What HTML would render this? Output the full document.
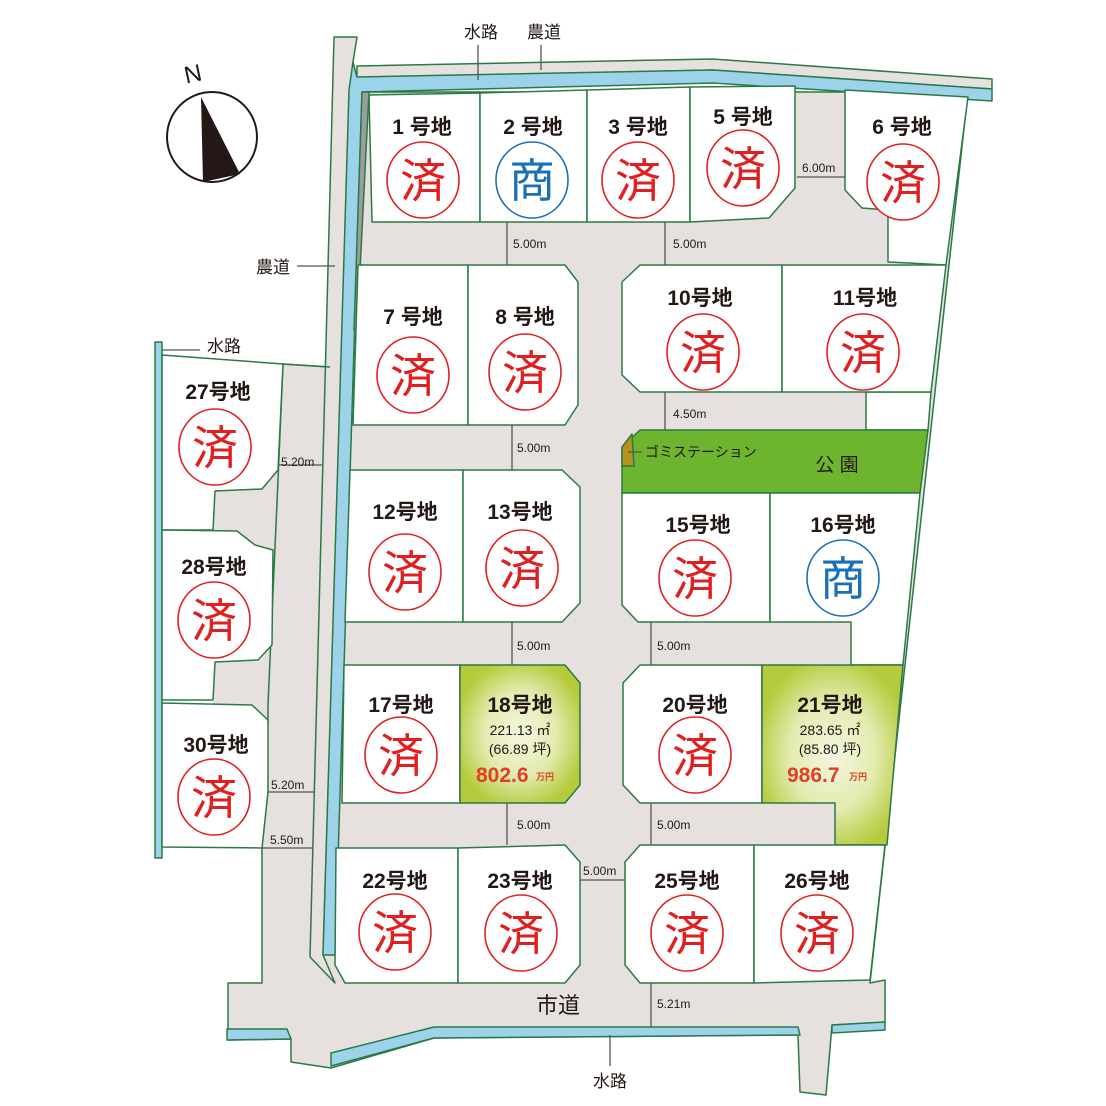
<!DOCTYPE html>
<html><head><meta charset="utf-8"><style>
html,body{margin:0;padding:0;background:#fff}
svg{display:block}
.lb{font-family:"Liberation Sans","Noto Sans CJK JP",sans-serif;font-weight:bold;font-size:21px;fill:#231815;text-anchor:middle}
.st{font-family:"Liberation Sans","Noto Sans CJK JP",sans-serif;font-size:46px;text-anchor:middle}
.sm{font-family:"Liberation Sans","Noto Sans CJK JP",sans-serif;font-size:12px;fill:#231815}
.tx{font-family:"Liberation Sans","Noto Sans CJK JP",sans-serif;font-size:17px;fill:#231815;text-anchor:middle}
</style></head><body>
<svg width="1106" height="1106" viewBox="0 0 1106 1106" xmlns="http://www.w3.org/2000/svg">
<defs>
<radialGradient id="g" cx="50%" cy="50%" r="55%"><stop offset="0" stop-color="#f4f7e0"/><stop offset="0.55" stop-color="#e3ebb0"/><stop offset="1" stop-color="#b5cb3c"/></radialGradient>
</defs>
<polygon fill="#e6e1de" points="213,360 330,367 312,960 262,983 262,848 213,848"/>
<g stroke="#2a7a45" stroke-width="1.5" stroke-linejoin="round">
<polygon fill="#e6e1de" points="357,92 968,92 870,983 885,980 885,1022 832,1025 826,1095 800,1092 798,1035 434,1038 331,1068 291,1062 291,1039 228,1040 228,983 262,983 262,848 268,720 268,705 278,480 283,364 330,367"/>
<polygon fill="#e6e1de" points="334,37 357,37 353,62 350,90 323,955 335,983 310,957"/>
<polygon fill="#e6e1de" points="357,66 713,59 992,79 992,89 713,70 357,78"/>
<polygon fill="#9cd3ea" points="353,62 357,77 713,70 992,89 992,101 713,83 362,92 335,955 323,955 349,90"/>
<polygon fill="#9d9d9d" points="362,92 369,92 357,330 354,330"/>
<polygon fill="#9cd3ea" points="155,342 162,342 162,858 155,858"/>
<polygon fill="#9cd3ea" points="227,1029 287,1029 291,1039 227,1040"/>
<polygon fill="#9cd3ea" points="331,1053 434,1027 798,1027 800,1035 434,1038 331,1066"/>
<polygon fill="#9cd3ea" points="832,1025 885,1022 885,1030 832,1033"/>
<polygon fill="#fff" points="866,392 931,392 928,430 866,430"/>
<polygon fill="#fff" points="162,355 283,364 278,470 262,489 215,491 213,530 162,530"/>
<polygon fill="#fff" points="162,530 237,531 255,545 273,550 272,645 258,660 215,662 213,700 162,700"/>
<polygon fill="#fff" points="162,703 252,705 268,720 268,792 262,848 162,847"/>
<line x1="283" y1="364" x2="330" y2="367"/>
<polygon fill="#fff" points="369,95 480,93 480,222 372,222"/>
<polygon fill="#fff" points="480,93 587,90 587,222 480,222"/>
<polygon fill="#fff" points="587,90 690,87 690,222 587,222"/>
<polygon fill="#fff" points="690,87 795,86 795,188 769,218 690,222"/>
<polygon fill="#fff" points="845,90 968,97 946,265 888,262 888,210 862,208 845,190"/>
<polygon fill="#fff" points="358,265 468,265 468,425 353,425"/>
<polygon fill="#fff" points="468,265 565,265 578,282 578,405 565,425 468,425"/>
<polygon fill="#fff" points="640,265 782,265 782,392 640,392 622,375 622,282"/>
<polygon fill="#fff" points="782,265 946,265 931,392 782,392"/>
<polygon fill="#6db52e" points="640,430 928,430 920,493 622,493 622,447"/>
<polygon fill="#b8901e" points="622,447 632,434 634,466 622,466"/>
<polygon fill="#fff" points="350,470 463,470 463,622 345,622"/>
<polygon fill="#fff" points="463,470 562,470 580,487 580,603 562,622 463,622"/>
<polygon fill="#fff" points="622,493 770,493 770,622 638,622 622,605"/>
<polygon fill="#fff" points="770,493 920,493 903,665 851,665 851,622 770,622"/>
<polygon fill="#fff" points="344,665 460,665 460,803 342,803"/>
<polygon fill="url(#g)" points="460,665 565,665 580,683 580,785 565,803 460,803"/>
<polygon fill="#fff" points="640,665 762,665 762,803 640,803 623,785 623,683"/>
<polygon fill="url(#g)" points="762,665 903,665 887,845 835,845 835,803 762,803"/>
<polygon fill="#fff" points="336,848 458,848 458,983 345,983 335,965"/>
<polygon fill="#fff" points="458,848 565,845 580,862 580,965 565,983 458,983"/>
<polygon fill="#fff" points="640,845 754,845 754,983 640,983 625,965 625,862"/>
<polygon fill="#fff" points="754,845 885,845 870,980 754,983"/>
</g>
<g stroke="#555" stroke-width="1.3">
<line x1="507" y1="222" x2="507" y2="265"/><line x1="665" y1="222" x2="665" y2="265"/>
<line x1="797" y1="177" x2="845" y2="177"/>
<line x1="665" y1="392" x2="665" y2="430"/>
<line x1="512" y1="425" x2="512" y2="470"/>
<line x1="512" y1="622" x2="512" y2="665"/><line x1="651" y1="622" x2="651" y2="665"/>
<line x1="507" y1="803" x2="507" y2="845"/><line x1="651" y1="803" x2="651" y2="845"/>
<line x1="580" y1="880" x2="625" y2="880"/>
<line x1="651" y1="983" x2="651" y2="1027"/>
<line x1="278" y1="465" x2="322" y2="465"/>
<line x1="268" y1="792" x2="314" y2="792"/>
<line x1="262" y1="848" x2="312" y2="848"/>
<line x1="478" y1="45" x2="478" y2="80"/><line x1="541" y1="45" x2="541" y2="70"/>
<line x1="297" y1="266" x2="335" y2="266"/>
<line x1="162" y1="350" x2="200" y2="350"/>
<line x1="610" y1="1035" x2="610" y2="1066"/>
<line x1="628" y1="452" x2="642" y2="452"/>
</g>
<g class="sm">
<text x="513" y="248">5.00m</text><text x="673" y="248">5.00m</text>
<text x="802" y="172">6.00m</text><text x="673" y="418">4.50m</text>
<text x="517" y="452">5.00m</text><text x="517" y="650">5.00m</text><text x="657" y="650">5.00m</text>
<text x="517" y="829">5.00m</text><text x="657" y="829">5.00m</text>
<text x="583" y="875">5.00m</text><text x="657" y="1008">5.21m</text>
<text x="281" y="466">5.20m</text><text x="271" y="789">5.20m</text><text x="270" y="844">5.50m</text>
<text x="645" y="457" font-size="14">ゴミステーション</text>
</g>
<g class="tx">
<text x="481" y="38">水路</text><text x="544" y="38">農道</text>
<text x="273" y="273">農道</text><text x="224" y="352">水路</text>
<text x="610" y="1087">水路</text>
<text x="837" y="471" font-size="19">公 園</text>
<text x="558" y="1013" font-size="22">市道</text>
</g>
<circle cx="212" cy="137" r="45" fill="#fff" stroke="#231815" stroke-width="2"/>
<polygon points="201,97 240,174 203,182" fill="#231815"/>
<text x="193" y="82" font-family="Liberation Sans,sans-serif" font-size="24" fill="#231815" text-anchor="middle" transform="rotate(-12 193 74)">N</text>
<g class="lb">
<text x="422" y="134">1 号地</text><text x="533" y="134">2 号地</text><text x="638" y="134">3 号地</text>
<text x="743" y="124">5 号地</text><text x="902" y="134">6 号地</text>
<text x="413" y="324">7 号地</text><text x="525" y="324">8 号地</text>
<text x="700" y="305">10号地</text><text x="865" y="305">11号地</text>
<text x="218" y="399">27号地</text><text x="214" y="574">28号地</text><text x="216" y="752">30号地</text>
<text x="405" y="519">12号地</text><text x="520" y="519">13号地</text>
<text x="698" y="532">15号地</text><text x="843" y="532">16号地</text>
<text x="401" y="712">17号地</text><text x="520" y="712">18号地</text>
<text x="695" y="712">20号地</text><text x="830" y="712">21号地</text>
<text x="395" y="888">22号地</text><text x="520" y="888">23号地</text>
<text x="687" y="888">25号地</text><text x="817" y="888">26号地</text>
</g>
<g class="tx">
<text x="520" y="735" font-size="14">221.13 ㎡</text><text x="520" y="754" font-size="14">(66.89 坪)</text>
<text x="830" y="735" font-size="14">283.65 ㎡</text><text x="830" y="754" font-size="14">(85.80 坪)</text>
</g>
<g font-family="Liberation Sans,'Noto Sans CJK JP',sans-serif" font-weight="bold" fill="#e0402a">
<text x="476" y="782" font-size="21">802.6</text><text x="536" y="780" font-size="9">万円</text>
<text x="787" y="782" font-size="21">986.7</text><text x="849" y="780" font-size="9">万円</text>
</g>
<g fill="#fff" stroke-width="1.6">
<g stroke="#e02020">
<ellipse cx="423" cy="180" rx="36" ry="38"/><ellipse cx="638" cy="180" rx="36" ry="38"/>
<ellipse cx="743" cy="168" rx="36" ry="38"/><ellipse cx="903" cy="182" rx="36" ry="38"/>
<ellipse cx="413" cy="375" rx="36" ry="38"/><ellipse cx="525" cy="372" rx="36" ry="38"/>
<ellipse cx="703" cy="352" rx="36" ry="38"/><ellipse cx="863" cy="352" rx="36" ry="38"/>
<ellipse cx="215" cy="447" rx="36" ry="38"/><ellipse cx="214" cy="620" rx="36" ry="38"/><ellipse cx="214" cy="797" rx="36" ry="38"/>
<ellipse cx="405" cy="572" rx="36" ry="38"/><ellipse cx="522" cy="568" rx="36" ry="38"/>
<ellipse cx="695" cy="578" rx="36" ry="38"/>
<ellipse cx="401" cy="755" rx="36" ry="38"/><ellipse cx="695" cy="755" rx="36" ry="38"/>
<ellipse cx="395" cy="932" rx="36" ry="38"/><ellipse cx="521" cy="933" rx="36" ry="38"/>
<ellipse cx="687" cy="933" rx="36" ry="38"/><ellipse cx="817" cy="933" rx="36" ry="38"/>
</g>
<g stroke="#1a6fb5">
<ellipse cx="532" cy="180" rx="36" ry="38"/><ellipse cx="843" cy="578" rx="36" ry="38"/>
</g>
</g>
<g class="st" fill="#e02020">
<text x="423" y="197">済</text><text x="638" y="197">済</text><text x="743" y="185">済</text><text x="903" y="199">済</text>
<text x="413" y="392">済</text><text x="525" y="389">済</text><text x="703" y="369">済</text><text x="863" y="369">済</text>
<text x="215" y="464">済</text><text x="214" y="637">済</text><text x="214" y="814">済</text>
<text x="405" y="589">済</text><text x="522" y="585">済</text><text x="695" y="595">済</text>
<text x="401" y="772">済</text><text x="695" y="772">済</text>
<text x="395" y="949">済</text><text x="521" y="950">済</text><text x="687" y="950">済</text><text x="817" y="950">済</text>
</g>
<g class="st" fill="#1a6fb5">
<text x="532" y="197">商</text><text x="843" y="595">商</text>
</g>
</svg>
</body></html>
